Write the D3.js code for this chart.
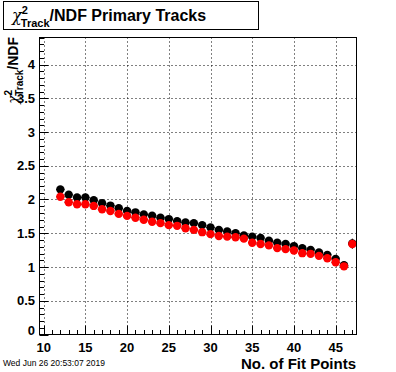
<!DOCTYPE html>
<html>
<head>
<meta charset="utf-8">
<script src="https://cdn.jsdelivr.net/npm/d3@7"></script>
<style>
body { margin: 0; background: #fff; }
svg { display: block; font-family: "Liberation Sans", Arial, sans-serif; }
.grid line { stroke: #000; stroke-width: 1; stroke-dasharray: 1,3; }
</style>
</head>
<body>
<svg id="chart" width="396" height="372"></svg>
<script>
"use strict";

// Number of fit points (bin centres)
var fitPoints = d3.range(12, 48);

// Black series (mean chi2/NDF)
var blackVals = [2.15, 2.07, 2.03, 2.03, 1.99, 1.945, 1.91, 1.87, 1.83, 1.81,
	1.78, 1.76, 1.73, 1.71, 1.68, 1.66, 1.65, 1.62, 1.585, 1.55,
	1.525, 1.50, 1.466, 1.45, 1.43, 1.39, 1.36, 1.34, 1.31, 1.28,
	1.254, 1.215, 1.18, 1.12, 1.025, 1.35];

// Red series
var redVals = [2.04, 1.96, 1.93, 1.93, 1.905, 1.856, 1.83, 1.787, 1.757, 1.73,
	1.70, 1.67, 1.65, 1.62, 1.61, 1.575, 1.55, 1.516, 1.487, 1.46,
	1.45, 1.44, 1.42, 1.36, 1.34, 1.32, 1.28, 1.265, 1.245, 1.205,
	1.195, 1.165, 1.13, 1.07, 1.01, 1.34];

// Vertical errors (only the last bin is visible)
var blackErr = fitPoints.map(function(n) { return n === 47 ? 0.07 : 0.01; });
var redErr = fitPoints.map(function(n) { return n === 47 ? 0.07 : 0.01; });

var xTicks = [10, 15, 20, 25, 30, 35, 40, 45];
var yTicks = [0, 0.5, 1, 1.5, 2, 2.5, 3, 3.5, 4];

var frame = {l: 39.5, r: 356.5, t: 37.5, b: 334.5};

var svg = d3.select("#chart");

var x = d3.scaleLinear().domain([9.5, 47.5]).range([frame.l, frame.r]);
var y = d3.scaleLinear().domain([0, 4.4]).range([frame.b, frame.t]);

// Grid
var grid = svg.append("g").attr("class", "grid");
grid.selectAll("line.gx").data(xTicks).enter().append("line")
	.attr("x1", function(d) { return Math.round(x(d)) + 0.5; })
	.attr("x2", function(d) { return Math.round(x(d)) + 0.5; })
	.attr("y1", frame.t).attr("y2", frame.b);
grid.selectAll("line.gy").data(yTicks.slice(1)).enter().append("line")
	.attr("y1", function(d) { return Math.round(y(d)) + 0.5; })
	.attr("y2", function(d) { return Math.round(y(d)) + 0.5; })
	.attr("x1", frame.l).attr("x2", frame.r);

// Axes: ticks point into the frame
var xMinor = d3.range(10, 48);
svg.append("g").selectAll("line").data(xMinor).enter().append("line")
	.attr("x1", function(d) { return Math.round(x(d)) + 0.5; })
	.attr("x2", function(d) { return Math.round(x(d)) + 0.5; })
	.attr("y1", frame.b)
	.attr("y2", function(d) { return frame.b - (d % 5 === 0 ? 9 : 4.5); })
	.attr("stroke", "#000");

var yMinor = d3.range(0, 45).map(function(i) { return i / 10; });
svg.append("g").selectAll("line").data(yMinor).enter().append("line")
	.attr("y1", function(d) { return Math.round(y(d)) + 0.5; })
	.attr("y2", function(d) { return Math.round(y(d)) + 0.5; })
	.attr("x1", frame.l)
	.attr("x2", function(d, i) { return frame.l + (i % 5 === 0 ? 9 : 4.5); })
	.attr("stroke", "#000");

svg.append("g").selectAll("text").data(xTicks).enter().append("text")
	.attr("x", function(d) { return x(d); })
	.attr("y", 352)
	.attr("text-anchor", "middle")
	.attr("font-size", 13).attr("font-weight", "bold")
	.text(function(d) { return d; });

svg.append("g").selectAll("text").data(yTicks).enter().append("text")
	.attr("x", 35)
	.attr("y", function(d) { return y(d) + 4.5 - (d === 0 ? 4 : 0); })
	.attr("text-anchor", "end")
	.attr("font-size", 13).attr("font-weight", "bold")
	.text(function(d) { return d; });

// Series
function drawSeries(vals, errs, color) {
	var g = svg.append("g");
	g.selectAll("line.h").data(vals).enter().append("line")
		.attr("x1", function(d, i) { return x(fitPoints[i] - 0.5); })
		.attr("x2", function(d, i) { return x(fitPoints[i] + 0.5); })
		.attr("y1", function(d) { return y(d); })
		.attr("y2", function(d) { return y(d); })
		.attr("stroke", "#000");
	g.selectAll("line.v").data(vals).enter().append("line")
		.attr("x1", function(d, i) { return x(fitPoints[i]); })
		.attr("x2", function(d, i) { return x(fitPoints[i]); })
		.attr("y1", function(d, i) { return y(d - errs[i]); })
		.attr("y2", function(d, i) { return y(d + errs[i]); })
		.attr("stroke", "#000");
	g.selectAll("circle").data(vals).enter().append("circle")
		.attr("cx", function(d, i) { return x(fitPoints[i]); })
		.attr("cy", function(d) { return y(d); })
		.attr("r", 4.2)
		.attr("fill", color);
}
drawSeries(blackVals, blackErr, "#000");
drawSeries(redVals, redErr, "#ff0000");

// Frame
svg.append("rect")
	.attr("x", frame.l).attr("y", frame.t)
	.attr("width", frame.r - frame.l).attr("height", frame.b - frame.t)
	.attr("fill", "none").attr("stroke", "#000");

// Title box
svg.append("rect")
	.attr("x", 3.5).attr("y", 1.5).attr("width", 255).attr("height", 28)
	.attr("fill", "#fff").attr("stroke", "#000");
var title = svg.append("text").attr("x", 12).attr("y", 21)
	.attr("font-size", 16).attr("font-weight", "bold");
title.append("tspan").attr("font-family", "DejaVu Serif").attr("font-weight", "normal")
	.attr("font-style", "italic").text("\u03c7");
title.append("tspan").attr("font-size", 11).attr("dy", -7).text("2");
title.append("tspan").attr("font-size", 11).attr("dx", -7).attr("dy", 13).text("Track");
title.append("tspan").attr("dy", -6).text("/NDF Primary Tracks");

// Y axis title
var yt = svg.append("text")
	.attr("transform", "translate(18,37) rotate(-90)")
	.attr("text-anchor", "end")
	.attr("font-size", 14).attr("font-weight", "bold");
yt.append("tspan").attr("font-family", "DejaVu Serif").attr("font-weight", "normal")
	.attr("font-style", "italic").text("\u03c7");
yt.append("tspan").attr("font-size", 10).attr("dy", -6).text("2");
yt.append("tspan").attr("font-size", 10).attr("dx", -6).attr("dy", 11).text("Track");
yt.append("tspan").attr("dy", -5).text("/NDF");

// X axis title
svg.append("text").attr("x", 356).attr("y", 369)
	.attr("text-anchor", "end")
	.attr("font-size", 15).attr("font-weight", "bold")
	.text("No. of Fit Points");

// Date stamp
svg.append("text").attr("x", 3).attr("y", 366)
	.attr("font-size", 8.5)
	.text("Wed Jun 26 20:53:07 2019");
</script>
</body>
</html>
